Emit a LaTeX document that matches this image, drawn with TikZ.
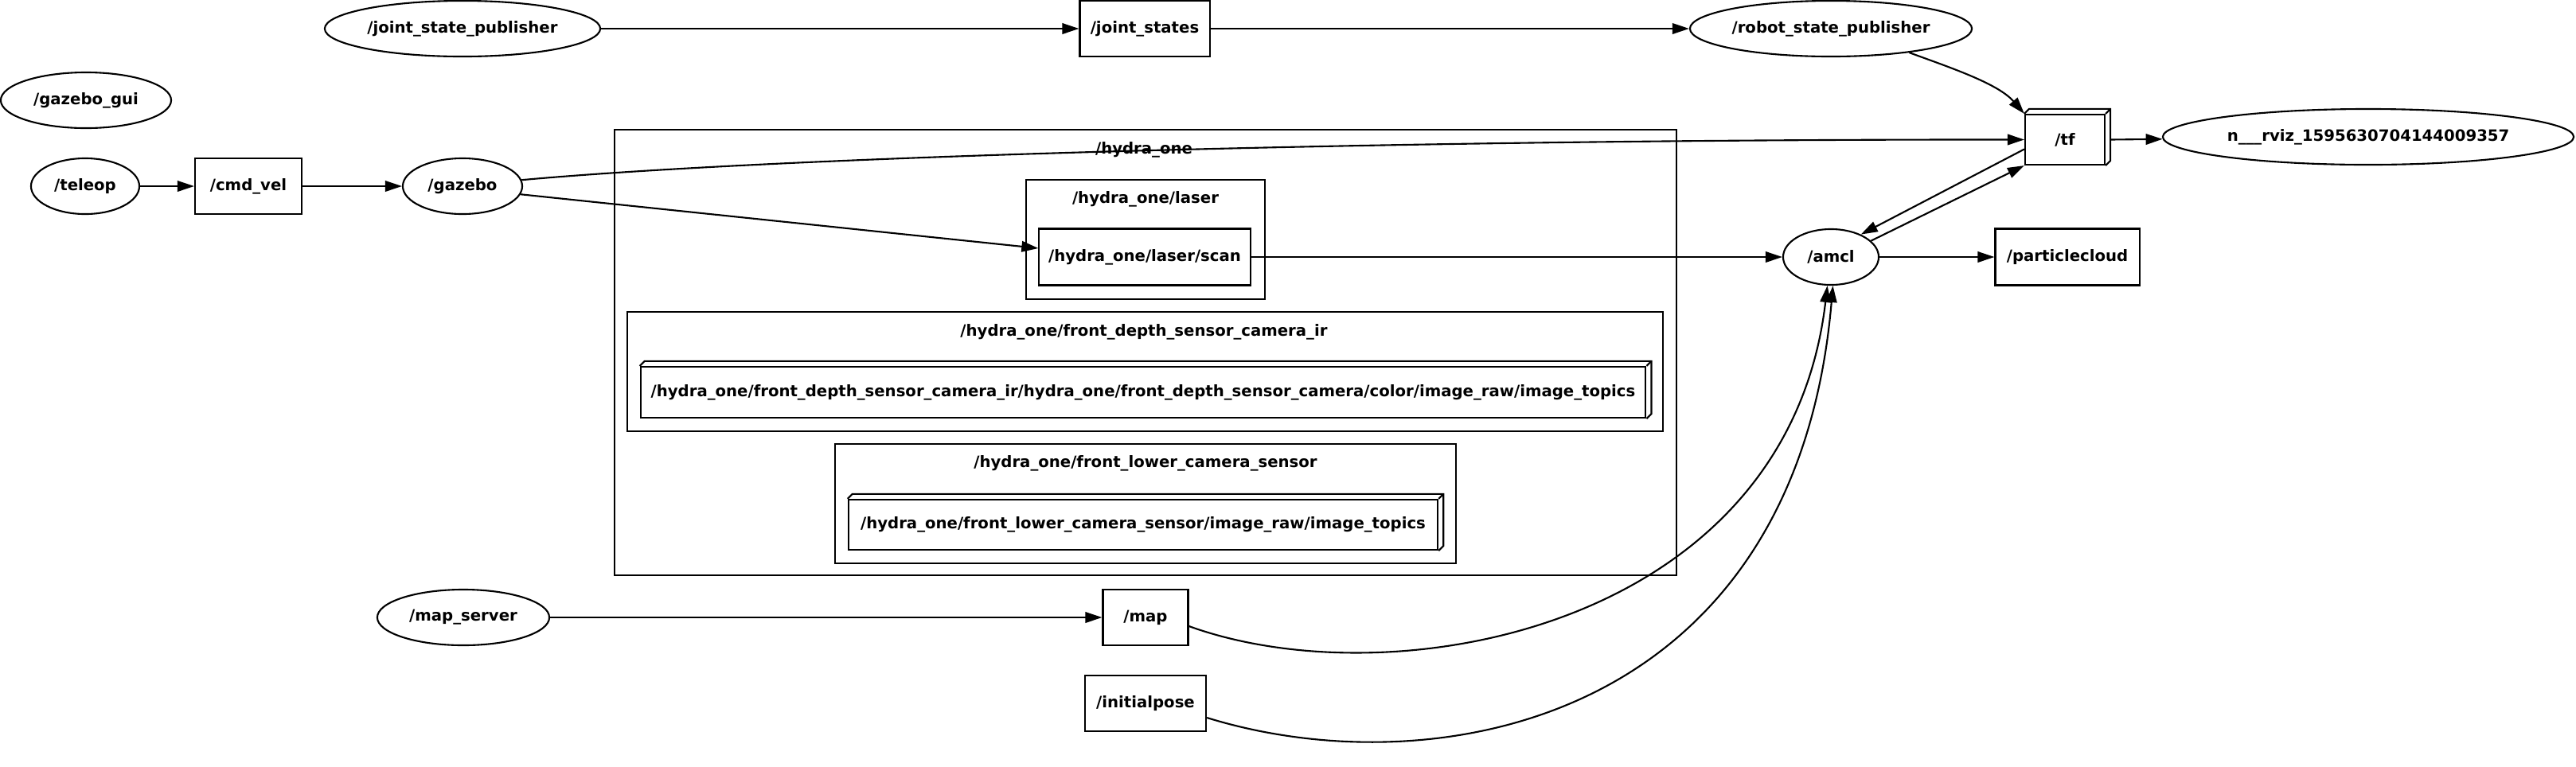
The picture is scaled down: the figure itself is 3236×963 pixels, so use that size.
\documentclass[tikz,border=0pt]{standalone}
\usepackage{fontspec}
\setmainfont{DejaVu Sans}
\usetikzlibrary{arrows.meta,shapes.geometric,calc}
\begin{document}
\begin{tikzpicture}[x=0.01cm,y=-0.01cm,
  every node/.style={font=\fontsize{5.6}{6.5}\selectfont\bfseries, inner sep=0pt},
  ell/.style={draw, ellipse, line width=0.6pt},
  topic/.style={draw, rectangle, line width=0.6pt},
  clus/.style={draw, rectangle, line width=0.6pt},
  conn/.style={line width=0.6pt, -{Triangle[length=0.21cm,width=0.135cm]}},
  depthline/.style={line width=0.6pt, line join=miter},
  ]
\useasboundingbox (0,0) rectangle (3236,963);
% clusters
\node[clus, minimum width=13.34cm, minimum height=5.6cm] (hydra) at (1439,443) {};
\node (lhydra) at (1437,188) {/hydra\_one};
\node[clus, minimum width=3.0cm, minimum height=1.5cm] (laser) at (1439,301) {};
\node (llaser) at (1439,250) {/hydra\_one/laser};
\node[clus, minimum width=13.01cm, minimum height=1.5cm] (depthc) at (1438.5,467) {};
\node (ldepth) at (1437,417) {/hydra\_one/front\_depth\_sensor\_camera\_ir};
\node[clus, minimum width=7.8cm, minimum height=1.5cm] (lowerc) at (1439,633) {};
\node (llower) at (1439,582) {/hydra\_one/front\_lower\_camera\_sensor};
% nodes
\node[ell, minimum width=3.46cm, minimum height=0.7cm] (jsp) at (581,36) {/joint\_state\_publisher};
\node[topic, minimum width=1.63cm, minimum height=0.7cm] (js) at (1438,36) {/joint\_states};
\node[ell, minimum width=3.54cm, minimum height=0.7cm] (rsp) at (2300,36) {/robot\_state\_publisher};
\node[ell, minimum width=2.14cm, minimum height=0.7cm] (gui) at (108,126) {/gazebo\_gui};
\node[ell, minimum width=1.36cm, minimum height=0.7cm] (teleop) at (107,234) {/teleop};
\node[topic, minimum width=1.34cm, minimum height=0.7cm] (cmd) at (312,234) {/cmd\_vel};
\node[ell, minimum width=1.5cm, minimum height=0.7cm] (gazebo) at (581,234) {/gazebo};
\node[topic, minimum width=1.0cm, minimum height=0.63cm] (tf) at (2594,175.5) {/tf};
\node[ell, minimum width=5.16cm, minimum height=0.7cm] (rviz) at (2975,172) {n\_\_\_rviz\_1595630704144009357};
\node[ell, minimum width=1.2cm, minimum height=0.7cm] (amcl) at (2300,323) {/amcl};
\node[topic, minimum width=1.81cm, minimum height=0.71cm] (pc) at (2597,323) {/particlecloud};
\node[topic, minimum width=2.65cm, minimum height=0.71cm] (scan) at (1438,323) {/hydra\_one/laser/scan};
\node[topic, minimum width=12.62cm, minimum height=0.64cm] (depthimg) at (1436,493) {/hydra\_one/front\_depth\_sensor\_camera\_ir/hydra\_one/front\_depth\_sensor\_camera/color/image\_raw/image\_topics};
\node[topic, minimum width=7.4cm, minimum height=0.63cm] (lowerimg) at (1436,659.5) {/hydra\_one/front\_lower\_camera\_sensor/image\_raw/image\_topics};
\node[ell, minimum width=2.16cm, minimum height=0.7cm] (mapserver) at (582,776) {/map\_server};
\node[topic, minimum width=1.07cm, minimum height=0.7cm] (map) at (1439,776) {/map};
\node[topic, minimum width=1.52cm, minimum height=0.7cm] (ipose) at (1439,884) {/initialpose};
% 3d depth of box3d nodes
\foreach \n in {tf,depthimg,lowerimg}{
  \draw[depthline] (\n.north west) -- ++(6,-6) -| ($(\n.south east)+(6,-6)$) -- (\n.south east);
  \draw[depthline] (\n.north east) -- ++(6,-6);
}
% edges
\draw[conn] (jsp) -- (js);
\draw[conn] (js) -- (rsp);
\draw[conn] (rsp.-17) .. controls (2450,85) and (2510,105) .. (tf.north west);
\draw[conn] (teleop) -- (cmd);
\draw[conn] (cmd) -- (gazebo);
\draw[conn] (gazebo.6) .. controls (1000,195) and (1800,175) .. (tf.west);
\draw[conn] (gazebo.-8) -- ($(scan.west)+(0,-11)$);
\draw[conn] (scan) -- (amcl);
\draw[conn] (amcl) -- (pc);
\draw[conn] ($(tf.west)+(0,12)$) -- (amcl.37);
\draw[conn] (amcl.22) -- (tf.south west);
\draw[conn] (tf.east) ++(6,0) -- (rviz);
\draw[conn] (mapserver) -- (map);
\draw[conn] ($(map.east)+(0,11)$) .. controls (1750,880) and (2245,790) .. (amcl.-97);
\draw[conn] ($(ipose.east)+(0,18)$) .. controls (1800,990) and (2255,910) .. (amcl.-86);
\end{tikzpicture}
\end{document}
